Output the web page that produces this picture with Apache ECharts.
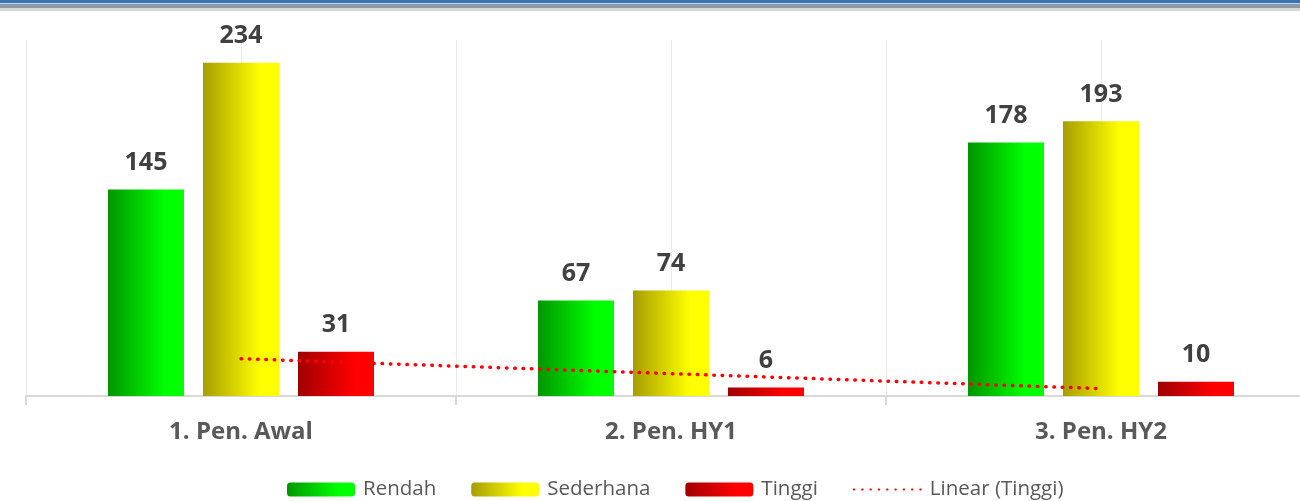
<!DOCTYPE html>
<html>
<head>
<meta charset="utf-8">
<title>Rendah / Sederhana / Tinggi</title>
<script src="https://cdn.jsdelivr.net/npm/echarts@6/dist/echarts.min.js"></script>
<style>
    html, body { margin: 0; padding: 0; background: #fff; }
    #chart { width: 1300px; height: 501px; }
</style>
</head>
<body>
<div id="chart"></div>
<script>
// data
var categories = ['1. Pen. Awal', '2. Pen. HY1', '3. Pen. HY2'];
var rendah = [145, 67, 178];
var sederhana = [234, 74, 193];
var tinggi = [31, 6, 10];
var trendTinggi = [26.2, 15.7, 5.2];   // Linear (Tinggi)

function grad(dark, light) {
    return new echarts.graphic.LinearGradient(0, 0, 1, 0, [
        { offset: 0, color: dark },
        { offset: 0.75, color: light },
        { offset: 1, color: light }
    ]);
}

var labelStyle = {
    show: true,
    position: 'top',
    distance: 14,
    fontFamily: 'Open Sans',
    fontWeight: 'bold',
    fontSize: 25,
    color: '#404040'
};

var chart = echarts.init(document.getElementById('chart'));
chart.setOption({
    animation: false,
    textStyle: { fontFamily: 'Open Sans' },
    graphic: [
        { type: 'rect', shape: { x: 0, y: 0, width: 1300, height: 3 }, style: { fill: '#3a74b8' } },
        { type: 'rect', shape: { x: 0, y: 3, width: 1300, height: 1 }, style: { fill: '#c9d2de' } },
        { type: 'rect', shape: { x: 0, y: 4, width: 1300, height: 4 }, style: { fill: '#8e96a8' } },
        { type: 'rect', shape: { x: 0, y: 8, width: 1300, height: 3 }, style: { fill: '#d6d6d6' } }
    ],
    legend: {
        left: 282,
        top: 474,
        itemWidth: 68,
        itemHeight: 14,
        itemGap: 35,
        textStyle: { fontFamily: 'Open Sans', fontSize: 20.5, color: '#595959', padding: [0, 0, 0, 3] },
        data: ['Rendah', 'Sederhana', 'Tinggi', {
            name: 'Linear (Tinggi)',
            itemStyle: { opacity: 0 }
        }]
    },
    grid: { left: 26, top: 40, width: 1290, height: 356, outerBoundsMode: 'none' },
    xAxis: [{
        type: 'category',
        data: categories,
        axisLine: { lineStyle: { color: '#d9d9d9', width: 2 } },
        axisTick: { show: true, length: 9, lineStyle: { color: '#d9d9d9', width: 2 } },
        splitLine: { show: false },
        axisLabel: { fontFamily: 'Open Sans', fontWeight: 'bold', fontSize: 24, color: '#595959', margin: 24 }
    }, {
        type: 'value',
        position: 'bottom',
        min: 0,
        max: 6,
        interval: 1,
        axisLine: { show: false },
        axisTick: { show: false },
        axisLabel: { show: false },
        splitLine: { show: true, lineStyle: { color: '#ececec', width: 1 } }
    }],
    yAxis: {
        type: 'value',
        min: 0,
        max: 250,
        show: false,
        splitLine: { show: false }
    },
    series: [{
        name: 'Rendah',
        type: 'bar',
        barWidth: 76,
        barGap: '25%',
        data: rendah,
        itemStyle: { color: grad('#009600', '#00ff00') },
        label: labelStyle
    }, {
        name: 'Sederhana',
        type: 'bar',
        barWidth: 76,
        barGap: '25%',
        data: sederhana,
        itemStyle: { color: grad('#a69d00', '#ffff00') },
        label: labelStyle
    }, {
        name: 'Tinggi',
        type: 'bar',
        barWidth: 76,
        barGap: '25%',
        data: tinggi,
        itemStyle: { color: grad('#a00000', '#ff0000') },
        label: labelStyle
    }, {
        name: 'Linear (Tinggi)',
        type: 'line',
        data: trendTinggi,
        symbol: 'none',
        z: 5,
        itemStyle: { color: '#ff0000' },
        lineStyle: { color: '#ff0000', width: 3.5, type: [0.5, 7.8], cap: 'round' }
    }]
});
</script>
</body>
</html>
